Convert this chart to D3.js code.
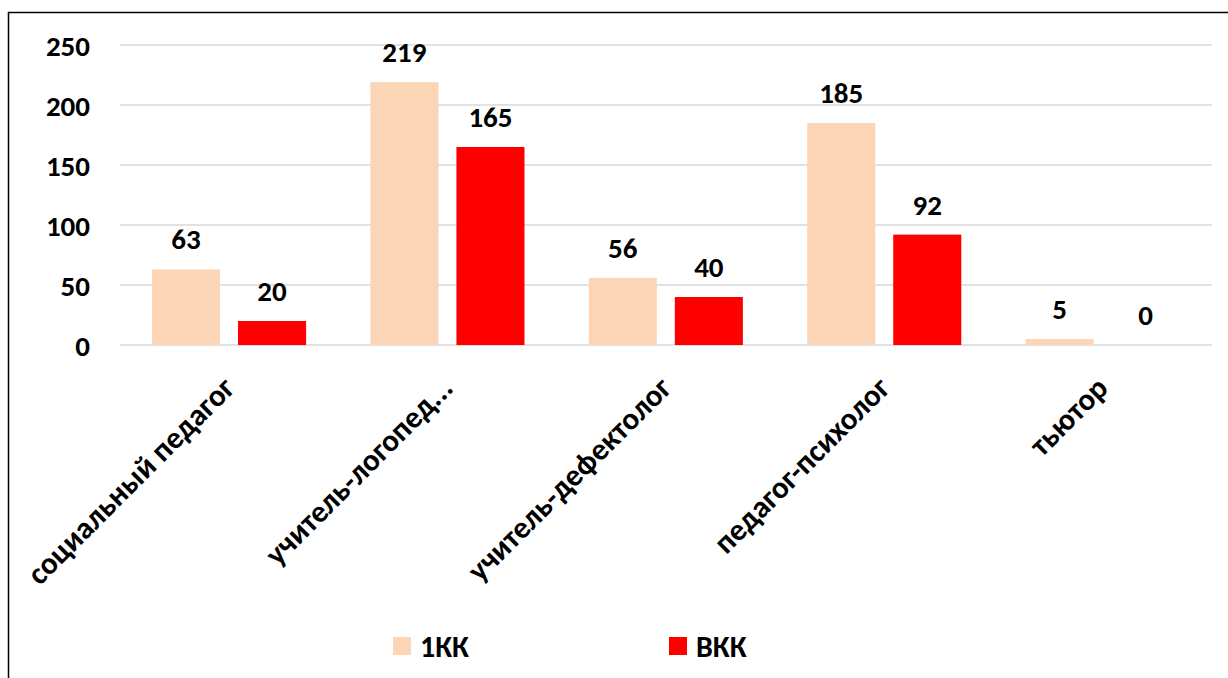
<!DOCTYPE html>
<html>
<head>
<meta charset="utf-8">
<script src="https://cdn.jsdelivr.net/npm/d3@7"></script>
<style>
  html, body { margin: 0; padding: 0; background: #fff; }
  svg { display: block; }
  text { font-family: Carlito, Calibri, Lato, "Open Sans", sans-serif; font-weight: bold; fill: #000; }
</style>
</head>
<body>
<svg id="chart" width="1228" height="678"></svg>
<script>
const categories = ["социальный педагог", "учитель-логопед...", "учитель-дефектолог", "педагог-психолог", "тьютор"];
const seriesNames = ["1КК", "ВКК"];
const values1KK = [63, 219, 56, 185, 5];
const valuesVKK = [20, 165, 40, 92, 0];
const yTicks = [0, 50, 100, 150, 200, 250];
const colors = ["#FBD5B5", "#FF0000"];

const svg = d3.select("#chart");
const W = 1228, H = 678;

// frame
svg.append("path")
  .attr("d", `M8.5,${H} L8.5,12.5 L${W},12.5`)
  .attr("fill", "none").attr("stroke", "#000").attr("stroke-width", 1.5);

const x0 = d3.scaleBand().domain(categories).range([120, 1212]).padding(0);
const bw = x0.bandwidth();
const x1 = d3.scaleBand().domain(seriesNames).range([bw * 0.1465, bw * 0.852]).paddingInner(0.209).paddingOuter(0);
const y = d3.scaleLinear().domain([0, 250]).range([345, 45]);

// gridlines
svg.append("g").selectAll("line").data(yTicks).join("line")
  .attr("x1", 120).attr("x2", 1212)
  .attr("y1", d => y(d)).attr("y2", d => y(d))
  .attr("stroke", "#d9d9d9").attr("stroke-width", 1.3);

// y axis
const yAxis = svg.append("g").attr("transform", "translate(90,0)")
  .call(d3.axisLeft(y).tickValues(yTicks).tickSize(0).tickPadding(0));
yAxis.select(".domain").remove();
yAxis.selectAll("text").attr("font-size", 29).attr("dy", "0.35em")
  .style("font-family", "Carlito, Calibri, Lato, sans-serif").style("font-weight", "bold");

const rows = categories.map((c, i) => ({cat: c, vals: [values1KK[i], valuesVKK[i]]}));

const groups = svg.append("g").selectAll("g").data(rows).join("g")
  .attr("transform", d => `translate(${x0(d.cat)},0)`);

groups.selectAll("rect").data(d => d.vals.map((v, k) => ({s: seriesNames[k], v, k}))).join("rect")
  .attr("x", d => x1(d.s)).attr("width", x1.bandwidth())
  .attr("y", d => y(d.v)).attr("height", d => y(0) - y(d.v))
  .attr("fill", d => colors[d.k]);

groups.selectAll("text.val").data(d => d.vals.map((v, k) => ({s: seriesNames[k], v, k}))).join("text")
  .attr("class", "val")
  .attr("x", d => x1(d.s) + x1.bandwidth() / 2)
  .attr("y", d => y(d.v) - 20)
  .attr("text-anchor", "middle")
  .attr("font-size", 29)
  .text(d => d.v);

// category labels
const xAxis = svg.append("g").attr("transform", "translate(0,345)")
  .call(d3.axisBottom(x0).tickSize(0).tickPadding(0));
xAxis.select(".domain").remove();
xAxis.selectAll("text")
  .attr("font-size", 31)
  .attr("text-anchor", "end")
  .attr("dy", null)
  .attr("y", 0)
  .attr("transform", "translate(7,45) rotate(-45)")
  .style("font-family", "Carlito, Calibri, Lato, sans-serif").style("font-weight", "bold");

// legend
const legend = svg.append("g");
const legendX = [393, 669];
seriesNames.forEach((s, k) => {
  legend.append("rect").attr("x", legendX[k]).attr("y", 637).attr("width", 18).attr("height", 18).attr("fill", colors[k]);
  legend.append("text").attr("x", legendX[k] + 27).attr("y", 646).attr("dy", "0.35em")
    .attr("font-size", 30).text(s);
});
</script>
</body>
</html>
